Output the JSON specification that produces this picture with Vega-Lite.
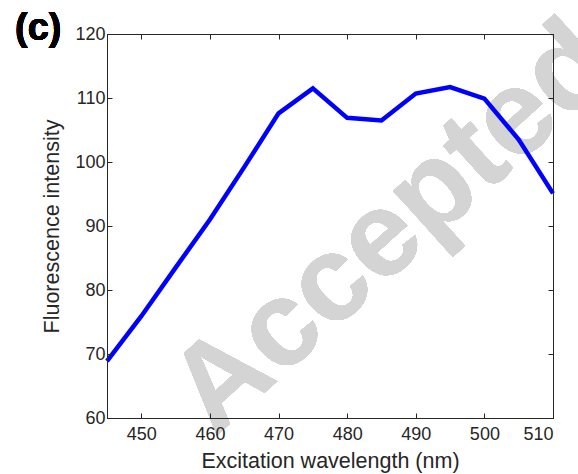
{
  "$schema": "https://vega.github.io/schema/vega-lite/v6.json",
  "autosize": {"type": "none"},
  "width": 446,
  "height": 384,
  "padding": {"left": 107, "top": 34, "right": 25, "bottom": 56},
  "background": "white",
  "config": {
    "view": {"stroke": "#262626", "strokeWidth": 1},
    "axis": {
      "labelFont": "Liberation Sans",
      "titleFont": "Liberation Sans",
      "labelFontSize": 18,
      "titleFontSize": 21.5,
      "titleFontWeight": "normal",
      "labelColor": "#262626",
      "titleColor": "#262626",
      "domainColor": "#262626",
      "tickColor": "#262626",
      "domainWidth": 1,
      "tickWidth": 1,
      "grid": false,
      "zindex": 2
    }
  },
  "data": {
    "values": [
      {"wavelength": 445, "intensity": 68.9},
      {"wavelength": 450, "intensity": 75.9},
      {"wavelength": 455, "intensity": 83.5},
      {"wavelength": 460, "intensity": 91.0},
      {"wavelength": 465, "intensity": 99.2},
      {"wavelength": 470, "intensity": 107.6},
      {"wavelength": 475, "intensity": 111.5},
      {"wavelength": 480, "intensity": 106.9},
      {"wavelength": 485, "intensity": 106.5},
      {"wavelength": 490, "intensity": 110.7},
      {"wavelength": 495, "intensity": 111.7},
      {"wavelength": 500, "intensity": 109.9},
      {"wavelength": 505, "intensity": 103.5},
      {"wavelength": 510, "intensity": 95.1}
    ]
  },
  "layer": [
    {
      "mark": {
        "type": "text",
        "text": "Accepted",
        "font": "Liberation Sans",
        "fontWeight": "bold",
        "fontSize": 121,
        "color": "#d4d4d4",
        "angle": -42,
        "align": "center",
        "baseline": "middle",
        "clip": false
      },
      "encoding": {
        "x": {"datum": 486.7, "type": "quantitative", "scale": {"domain": [445, 510], "nice": false, "zero": false}, "axis": null},
        "y": {"datum": 89.6, "type": "quantitative", "scale": {"domain": [60, 120], "nice": false, "zero": false}, "axis": null}
      }
    },
    {
      "mark": {"type": "line", "color": "#0000ff", "strokeWidth": 4.5, "strokeJoin": "miter", "clip": false},
      "encoding": {
        "x": {
          "field": "wavelength",
          "type": "quantitative",
          "scale": {"domain": [445, 510], "nice": false, "zero": false},
          "axis": {
            "orient": "bottom",
            "title": "Excitation wavelength (nm)",
            "values": [450, 460, 470, 480, 490, 500, 510],
            "tickSize": -5,
            "labelPadding": 12,
            "titlePadding": 7,
            "zindex": 2
          }
        },
        "y": {
          "field": "intensity",
          "type": "quantitative",
          "scale": {"domain": [60, 120], "nice": false, "zero": false},
          "axis": {
            "orient": "left",
            "title": "Fluorescence intensity",
            "values": [60, 70, 80, 90, 100, 110, 120],
            "tickSize": -5,
            "labelPadding": 7,
            "titlePadding": 11,
            "zindex": 2
          }
        }
      }
    },
    {
      "mark": {"type": "line", "opacity": 0},
      "encoding": {
        "x": {
          "field": "wavelength",
          "type": "quantitative",
          "scale": {"domain": [445, 510], "nice": false, "zero": false},
          "axis": {"orient": "top", "title": null, "labels": false, "values": [450, 460, 470, 480, 490, 500, 510], "tickSize": -5, "zindex": 2}
        },
        "y": {
          "field": "intensity",
          "type": "quantitative",
          "scale": {"domain": [60, 120], "nice": false, "zero": false},
          "axis": {"orient": "right", "title": null, "labels": false, "values": [60, 70, 80, 90, 100, 110, 120], "tickSize": -5, "zindex": 2}
        }
      }
    },
    {
      "mark": {
        "type": "text",
        "text": "(c)",
        "font": "Liberation Sans",
        "fontWeight": "bold",
        "fontSize": 38,
        "color": "#000000",
        "align": "left",
        "baseline": "alphabetic",
        "clip": false
      },
      "encoding": {
        "x": {"datum": 431.6, "type": "quantitative", "scale": {"domain": [445, 510], "nice": false, "zero": false}, "axis": null},
        "y": {"datum": 119.0, "type": "quantitative", "scale": {"domain": [60, 120], "nice": false, "zero": false}, "axis": null}
      }
    }
  ],
  "resolve": {"axis": {"x": "independent", "y": "independent"}}
}
